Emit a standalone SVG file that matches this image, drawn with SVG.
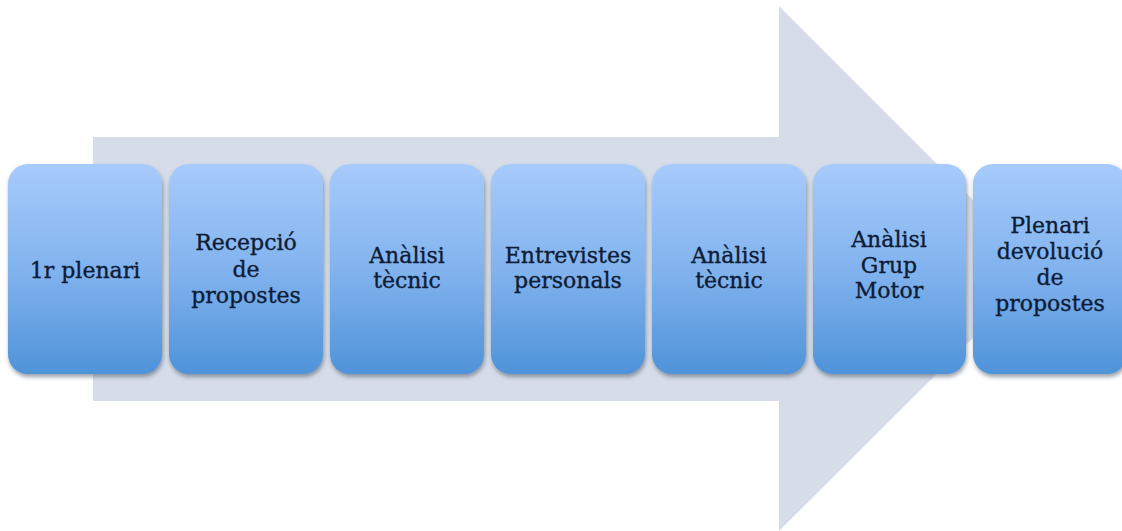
<svg xmlns="http://www.w3.org/2000/svg" width="1122" height="531" viewBox="0 0 1122 531">
<defs>
<linearGradient id="boxg" x1="0" y1="0" x2="0" y2="1">
<stop offset="0" stop-color="#a7cbfb"/>
<stop offset="0.5" stop-color="#82b3ee"/>
<stop offset="1" stop-color="#4f93d9"/>
</linearGradient>
<filter id="sh" x="-10%" y="-10%" width="125%" height="125%">
<feDropShadow dx="1" dy="3" stdDeviation="2" flood-color="#4a5468" flood-opacity="0.55"/>
</filter>
<style>
.box{fill:url(#boxg);filter:url(#sh);}
.lbl{font-family:"DejaVu Serif","Liberation Serif",serif;font-size:22px;fill:#0e1c35;stroke:#0e1c35;stroke-width:0.35px;text-anchor:middle;}
</style>
</defs>
<rect width="1122" height="531" fill="#ffffff"/>
<g id="arrow">
<polygon points="93,137 779,137 779,6 1042,269 779,531 779,401 93,401" fill="#d6dde9"/>
</g>
<g id="connectors"></g>
<g id="n1">
<rect class="box" x="8" y="164" width="154" height="210" rx="20"/>
<text class="lbl" x="85" y="278">1r plenari</text>
</g>
<g id="n2">
<rect class="box" x="169" y="164" width="154" height="210" rx="20"/>
<text class="lbl" x="246" y="250">Recepció</text>
<text class="lbl" x="246" y="277">de</text>
<text class="lbl" x="246" y="303">propostes</text>
</g>
<g id="n3">
<rect class="box" x="330" y="164" width="154" height="210" rx="20"/>
<text class="lbl" x="407" y="263">Anàlisi</text>
<text class="lbl" x="407" y="288">tècnic</text>
</g>
<g id="n4">
<rect class="box" x="491" y="164" width="154" height="210" rx="20"/>
<text class="lbl" x="568" y="263">Entrevistes</text>
<text class="lbl" x="568" y="288">personals</text>
</g>
<g id="n5">
<rect class="box" x="652" y="164" width="154" height="210" rx="20"/>
<text class="lbl" x="729" y="263">Anàlisi</text>
<text class="lbl" x="729" y="288">tècnic</text>
</g>
<g id="n6">
<rect class="box" x="813" y="164" width="153" height="210" rx="20"/>
<text class="lbl" x="889" y="247">Anàlisi</text>
<text class="lbl" x="889" y="273">Grup</text>
<text class="lbl" x="889" y="298">Motor</text>
</g>
<g id="n7">
<rect class="box" x="973" y="164" width="154" height="210" rx="20"/>
<text class="lbl" x="1050" y="233">Plenari</text>
<text class="lbl" x="1050" y="259">devolució</text>
<text class="lbl" x="1050" y="285">de</text>
<text class="lbl" x="1050" y="311">propostes</text>
</g>
</svg>
